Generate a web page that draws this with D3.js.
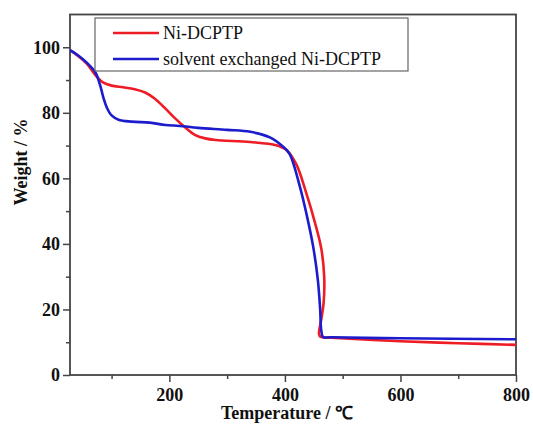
<!DOCTYPE html>
<html><head><meta charset="utf-8">
<script src="https://cdn.jsdelivr.net/npm/d3@7"></script>
<style>body{margin:0;background:#fff}svg{display:block}</style>
</head><body>
<svg id="c" width="533" height="430"></svg>
<script>
const seriesNames = ["Ni-DCPTP", "solvent exchanged Ni-DCPTP"];
const redTemp = [28,40,57,72,85,100,120,140,158,175,192,210,227,244,262,280,340,385,403,420,437,452,463,468,467,462,459,462,480,600,700,800];
const redWeight = [99.1,97.6,95.0,91.5,89.3,88.3,87.8,87.2,86.2,84.3,81.5,78.3,75.6,73.3,72.2,71.7,71.1,70.1,68.6,64.2,55.5,46.5,38.5,30,22,16,12.5,11.6,11.4,10.3,9.7,9.2];
const blueTemp = [28,40,57,72,80,86,92,100,112,135,166,193,218,250,300,340,374,396,408,426,437,449,457,461,463,466,480,600,800];
const blueWeight = [99.1,97.8,95.3,92.3,88.5,84.5,81.5,79.2,77.9,77.3,77.0,76.3,76.0,75.4,74.8,74.2,72.5,69.8,67.5,57.4,49.4,39.1,29,20,13.5,11.6,11.5,11.2,10.9];
const xTicks = [200,400,600,800];
const xMinor = [100,300,500,700];
const yTicks = [0,20,40,60,80,100];
const yMinor = [10,30,50,70,90];
const colors = ["#ee1c24","#1c1ccc"];

const svg = d3.select("#c");
const L=70,R=516,T=14.5,B=375;
const x = d3.scaleLinear().domain([28,800]).range([L,R]);
const y = d3.scaleLinear().domain([0,110]).range([B,T]);
const font = "'Liberation Serif','Times New Roman',serif";
const axisCol = "#444";

const gx = svg.append("g").attr("transform",`translate(0,${B})`);
gx.call(d3.axisBottom(x).tickValues(xMinor).tickSize(4).tickFormat(""));
gx.append("g").call(d3.axisBottom(x).tickValues(xTicks).tickSize(7).tickPadding(6).tickFormat(d3.format("d")));
const gy = svg.append("g").attr("transform",`translate(${L},0)`);
gy.call(d3.axisLeft(y).tickValues(yMinor).tickSize(4).tickFormat(""));
gy.append("g").call(d3.axisLeft(y).tickValues(yTicks).tickSize(7).tickPadding(3).tickFormat(d3.format("d")));
svg.selectAll(".domain").remove();
svg.selectAll(".tick line").attr("stroke",axisCol).attr("stroke-width",1.5);
svg.selectAll(".tick text").attr("font-family",font).attr("font-weight","bold").attr("font-size",18).attr("fill","#111");

svg.append("rect").attr("x",L).attr("y",T).attr("width",R-L).attr("height",B-T)
  .attr("fill","none").attr("stroke",axisCol).attr("stroke-width",1.8);

const line = d3.line().x(d=>x(d[0])).y(d=>y(d[1])).curve(d3.curveCatmullRom.alpha(0.5));
const data = [d3.zip(redTemp,redWeight), d3.zip(blueTemp,blueWeight)];
svg.append("defs").append("clipPath").attr("id","clip").append("rect").attr("x",L).attr("y",T).attr("width",R-L).attr("height",B-T);
data.forEach((d,i)=>{
  svg.append("path").datum(d).attr("d",line).attr("fill","none")
    .attr("stroke",colors[i]).attr("stroke-width",2.6).attr("clip-path","url(#clip)");
});

svg.append("rect").attr("x",95).attr("y",18).attr("width",313).attr("height",53)
  .attr("fill","#fff").attr("stroke","#666").attr("stroke-width",1.2);
seriesNames.forEach((n,i)=>{
  const ly = 33 + i*26;
  svg.append("line").attr("x1",113).attr("x2",159).attr("y1",ly).attr("y2",ly)
    .attr("stroke",colors[i]).attr("stroke-width",2.6);
  svg.append("text").attr("x",163).attr("y",ly+6).text(n)
    .attr("font-family",font).attr("font-size",18).attr("fill","#111");
});

svg.append("text").attr("x",287).attr("y",419).attr("text-anchor","middle")
  .attr("font-family",font).attr("font-weight","bold").attr("font-size",18).attr("fill","#111")
  .text("Temperature / ℃");
svg.append("text").attr("transform","translate(27,162) rotate(-90)").attr("text-anchor","middle")
  .attr("font-family",font).attr("font-weight","bold").attr("font-size",18).attr("fill","#111")
  .text("Weight / %");
</script>
</body></html>
